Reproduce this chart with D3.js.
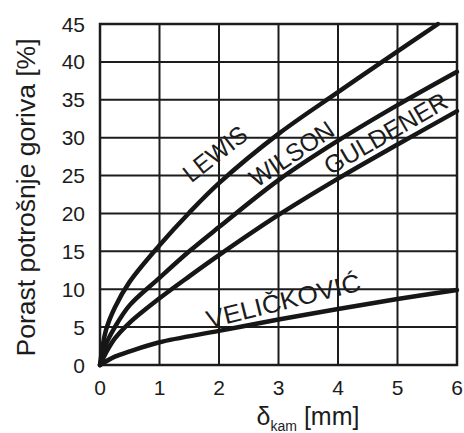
<!DOCTYPE html>
<html>
<head>
<meta charset="utf-8">
<script src="https://cdn.jsdelivr.net/npm/d3@7"></script>
<style>
  body { margin: 0; background: #fff; }
  svg text { font-family: "Liberation Sans", Arial, sans-serif; fill: #1c1c1c; }
</style>
</head>
<body>
<div id="chart"></div>
<script>
const W = 464, H = 433;
const margin = {left: 100, right: 7, top: 24, bottom: 68};

// axis ticks
const xTicks = [0, 1, 2, 3, 4, 5, 6];
const yTicks = [0, 5, 10, 15, 20, 25, 30, 35, 40, 45];

// curves
const lewisX = [0, 0.1, 0.25, 0.5, 1, 1.5, 2, 3, 4, 5, 5.68];
const lewisY = [0, 4.6, 7.6, 11.0, 15.8, 20.1, 24.0, 30.5, 36.0, 41.4, 45];
const wilsonX = [0, 0.1, 0.25, 0.5, 1, 1.5, 2, 3, 4, 5, 6];
const wilsonY = [0, 2.7, 5.0, 7.9, 11.5, 15.0, 18.2, 24.4, 29.6, 34.3, 38.7];
const guldenerX = [0, 0.1, 0.25, 0.5, 1, 1.5, 2, 3, 4, 5, 6];
const guldenerY = [0, 1.6, 3.5, 5.6, 8.8, 11.7, 14.5, 19.8, 24.6, 29.1, 33.5];
const velickovicX = [0, 0.25, 0.5, 1, 2, 3, 4, 5, 6];
const velickovicY = [0, 1.1, 1.8, 3.0, 4.5, 6.0, 7.4, 8.7, 9.9];

// curve names and where they sit (data units), angle in degrees
const labelNames = ["LEWIS", "WILSON", "GULDENER", "VELIČKOVIĆ"];
const labelX = [1.93, 3.22, 4.8, 3.08];
const labelY = [27.9, 27.9, 30.6, 8.5];
const labelAngle = [-38, -34, -30, -14];
const labelLen = [74, 96, 138, 158];

const svg = d3.select("#chart").append("svg")
    .attr("width", W).attr("height", H);

const x = d3.scaleLinear().domain([0, 6]).range([margin.left, W - margin.right]);
const y = d3.scaleLinear().domain([0, 45]).range([H - margin.bottom, margin.top]);

// grid
svg.selectAll("line.vgrid")
    .data(xTicks)
    .enter().append("line")
    .attr("class", "vgrid")
    .attr("x1", d => x(d)).attr("x2", d => x(d))
    .attr("y1", y(0)).attr("y2", y(45))
    .attr("stroke", "#1c1c1c").attr("stroke-width", 2);

svg.selectAll("line.hgrid")
    .data(yTicks)
    .enter().append("line")
    .attr("class", "hgrid")
    .attr("x1", x(0)).attr("x2", x(6))
    .attr("y1", d => y(d)).attr("y2", d => y(d))
    .attr("stroke", "#1c1c1c").attr("stroke-width", 2);

svg.append("rect")
    .attr("x", x(0)).attr("y", y(45))
    .attr("width", x(6) - x(0)).attr("height", y(0) - y(45))
    .attr("fill", "none").attr("stroke", "#1c1c1c").attr("stroke-width", 2.5);

// tick labels
svg.selectAll("text.ytick")
    .data(yTicks)
    .enter().append("text")
    .attr("class", "ytick")
    .attr("x", x(0) - 15)
    .attr("y", d => y(d))
    .attr("dy", "0.36em")
    .attr("text-anchor", "end")
    .style("font-size", "21px")
    .text(d => d);

svg.selectAll("text.xtick")
    .data(xTicks)
    .enter().append("text")
    .attr("class", "xtick")
    .attr("x", d => x(d))
    .attr("y", y(0) + 30)
    .attr("text-anchor", "middle")
    .style("font-size", "21px")
    .text(d => d);

// axis titles
svg.append("text")
    .attr("transform", "translate(35," + ((margin.top + H - margin.bottom) / 2 + 3) + ") rotate(-90)")
    .attr("text-anchor", "middle")
    .attr("textLength", 318)
    .attr("lengthAdjust", "spacingAndGlyphs")
    .style("font-size", "25px")
    .text("Porast potrošnje goriva [%]");

const xt = svg.append("text")
    .attr("x", 308)
    .attr("y", 425)
    .attr("text-anchor", "middle")
    .style("font-size", "25px");
xt.append("tspan").text("δ");
xt.append("tspan").attr("dy", 6).style("font-size", "14px").text("kam");
xt.append("tspan").attr("dy", -6).text(" [mm]");

// curves
const series = [
    {xs: lewisX, ys: lewisY},
    {xs: wilsonX, ys: wilsonY},
    {xs: guldenerX, ys: guldenerY},
    {xs: velickovicX, ys: velickovicY}
];

const line = d3.line()
    .x(d => x(d[0]))
    .y(d => y(d[1]))
    .curve(d3.curveCatmullRom.alpha(0.5));

svg.selectAll("path.curve")
    .data(series)
    .enter().append("path")
    .attr("class", "curve")
    .attr("d", d => line(d.xs.map((v, i) => [v, d.ys[i]])))
    .attr("fill", "none")
    .attr("stroke", "#161616")
    .attr("stroke-width", 4.5)
    .attr("stroke-linecap", "round");

// curve names
svg.selectAll("text.name")
    .data(labelNames)
    .enter().append("text")
    .attr("class", "name")
    .attr("transform", (d, i) => "translate(" + x(labelX[i]) + "," + y(labelY[i]) + ") rotate(" + labelAngle[i] + ")")
    .attr("text-anchor", "middle")
    .attr("dy", "0.36em")
    .attr("textLength", (d, i) => labelLen[i])
    .attr("lengthAdjust", "spacingAndGlyphs")
    .style("font-size", "25px")
    .text(d => d);
</script>
</body>
</html>
